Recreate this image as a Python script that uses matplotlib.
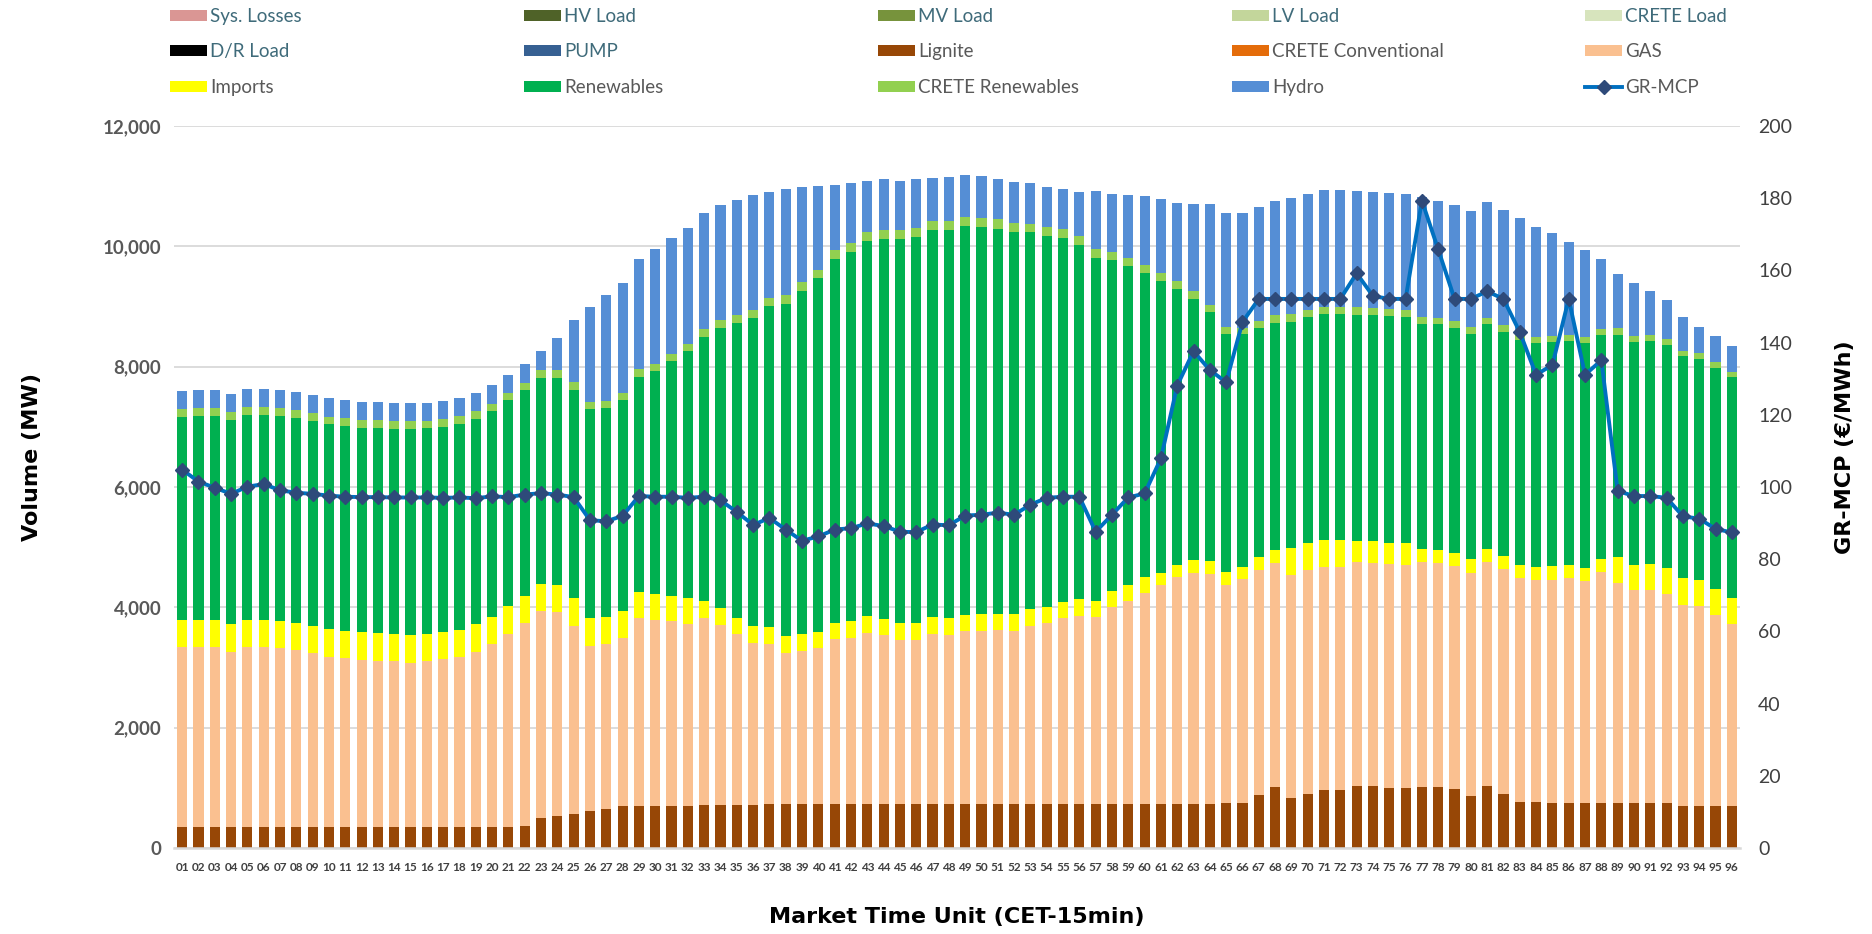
import numpy as np
import matplotlib
matplotlib.use("Agg")
import matplotlib.pyplot as plt
from matplotlib.patches import Patch
from matplotlib.lines import Line2D
from matplotlib.ticker import StrMethodFormatter

plt.rcParams['font.family'] = ['Lato', 'DejaVu Sans']

# market time units 01..96
mtu = [f"{i:02d}" for i in range(1, 97)]

lignite = [345, 345, 345, 345, 345, 345, 345, 345, 345, 345,
           345, 345, 345, 345, 345, 345, 345, 345, 345, 345,
           345, 360, 494, 527, 566, 615, 649, 693, 704, 704,
           704, 704, 715, 715, 715, 715, 737, 737, 737, 737,
           737, 737, 737, 737, 737, 737, 737, 737, 737, 737,
           737, 737, 737, 737, 737, 737, 737, 737, 737, 737,
           737, 737, 737, 737, 749, 749, 887, 1009, 832, 904,
           959, 959, 1026, 1026, 1004, 993, 1009, 1009, 976, 871,
           1026, 898, 760, 760, 749, 749, 749, 749, 749, 749,
           749, 749, 704, 704, 704, 704]
crete_conv = [0] * 96
gas = [2993, 2993, 2993, 2915, 2993, 2993, 2971, 2938, 2893, 2832,
       2805, 2777, 2771, 2760, 2738, 2760, 2788, 2827, 2915, 3038,
       3215, 3372, 3437, 3388, 3127, 2745, 2734, 2795, 3111, 3083,
       3061, 3011, 3106, 2995, 2834, 2690, 2651, 2512, 2535, 2579,
       2729, 2745, 2834, 2795, 2718, 2718, 2812, 2801, 2862, 2867,
       2878, 2867, 2945, 2995, 3078, 3117, 3100, 3261, 3361, 3499,
       3633, 3766, 3832, 3816, 3626, 3720, 3732, 3727, 3704, 3710,
       3710, 3710, 3726, 3710, 3709, 3709, 3738, 3732, 3704, 3704,
       3726, 3738, 3720, 3687, 3709, 3731, 3693, 3831, 3659, 3532,
       3543, 3476, 3338, 3311, 3166, 3011]
imports = [455, 455, 455, 455, 455, 455, 460, 460, 455, 455,
           454, 460, 455, 455, 460, 455, 449, 454, 455, 454,
           455, 460, 450, 455, 455, 455, 454, 455, 433, 427,
           427, 433, 277, 271, 277, 277, 277, 272, 277, 266,
           277, 283, 277, 272, 277, 277, 283, 277, 277, 278,
           278, 278, 283, 272, 277, 283, 272, 266, 277, 272,
           205, 205, 211, 216, 216, 206, 211, 216, 455, 454,
           455, 444, 355, 360, 361, 361, 216, 216, 216, 222,
           222, 210, 222, 222, 222, 217, 216, 217, 427, 427,
           427, 427, 438, 438, 439, 444]
renewables = [3365, 3381, 3387, 3399, 3398, 3398, 3404, 3404, 3404, 3415,
              3410, 3404, 3410, 3410, 3421, 3415, 3421, 3427, 3421, 3426,
              3431, 3420, 3436, 3442, 3470, 3476, 3476, 3508, 3580, 3708,
              3896, 4112, 4401, 4656, 4900, 5127, 5338, 5526, 5709, 5886,
              6046, 6146, 6235, 6323, 6384, 6423, 6439, 6451, 6456, 6434,
              6401, 6356, 6268, 6168, 6041, 5885, 5691, 5503, 5292, 5043,
              4843, 4577, 4345, 4134, 3946, 3862, 3807, 3779, 3757, 3763,
              3746, 3762, 3757, 3757, 3763, 3757, 3741, 3747, 3747, 3752,
              3730, 3730, 3736, 3724, 3724, 3724, 3735, 3729, 3691, 3707,
              3702, 3703, 3692, 3674, 3674, 3664]
crete_ren = [133, 133, 127, 127, 133, 133, 127, 127, 127, 122,
             127, 122, 127, 121, 127, 127, 127, 121, 122, 122,
             122, 122, 122, 127, 122, 116, 122, 117, 128, 117,
             128, 122, 133, 133, 133, 133, 144, 144, 144, 144,
             150, 150, 150, 150, 155, 155, 155, 149, 155, 149,
             155, 155, 144, 155, 149, 150, 150, 144, 145, 144,
             133, 133, 133, 127, 127, 100, 122, 122, 122, 117,
             127, 122, 122, 122, 116, 116, 116, 110, 121, 105,
             99, 111, 110, 106, 106, 100, 100, 100, 117, 100,
             100, 99, 94, 100, 89, 94]
hydro = [305, 300, 311, 299, 299, 305, 305, 305, 305, 305,
         305, 305, 299, 305, 300, 300, 305, 300, 304, 305,
         299, 316, 321, 537, 1030, 1585, 1756, 1828, 1828, 1922,
         1917, 1917, 1916, 1911, 1916, 1917, 1750, 1756, 1578, 1396,
         1086, 997, 847, 836, 820, 803, 715, 737, 704, 709,
         676, 682, 670, 665, 665, 736, 964, 964, 1047, 1147,
         1230, 1297, 1440, 1679, 1895, 1911, 1900, 1906, 1928, 1927,
         1934, 1934, 1934, 1933, 1928, 1928, 2000, 1934, 1928, 1933,
         1939, 1917, 1917, 1817, 1706, 1545, 1446, 1163, 892, 875,
         731, 654, 554, 427, 432, 426]
gr_mcp = [104.8, 101.5, 99.8, 98.1, 100.1, 100.8, 99.1, 98.4, 98.1, 97.6,
          97.3, 97.2, 97.2, 97.1, 97.1, 97.1, 97.0, 97.1, 96.9, 97.4,
          97.2, 97.9, 98.3, 97.9, 97.2, 90.8, 90.5, 92.0, 97.5, 97.3,
          97.3, 97.0, 97.3, 96.3, 93.1, 89.5, 91.4, 88.2, 85.1, 86.3,
          88.2, 88.6, 89.9, 89.2, 87.6, 87.5, 89.6, 89.4, 92.1, 92.3,
          92.9, 92.3, 95.1, 97.0, 97.3, 97.3, 87.6, 92.3, 97.1, 98.2,
          107.9, 128.1, 137.6, 132.4, 129.0, 145.7, 152.1, 152.1, 152.1, 152.1,
          152.1, 152.1, 159.2, 152.9, 152.1, 152.1, 179.3, 165.8, 152.1, 152.1,
          154.2, 152.1, 142.9, 131.1, 133.8, 152.1, 131.1, 135.1, 98.9, 97.5,
          97.5, 97.0, 91.9, 91.2, 88.4, 87.4]

stack = [('Lignite', lignite, '#974706'),
         ('CRETE Conventional', crete_conv, '#E46C0A'),
         ('GAS', gas, '#FAC090'),
         ('Imports', imports, '#FFFF00'),
         ('Renewables', renewables, '#00B050'),
         ('CRETE Renewables', crete_ren, '#92D050'),
         ('Hydro', hydro, '#558ED5')]

W, H = 1872, 934
fig = plt.figure(figsize=(W / 100, H / 100), dpi=100)
ax = fig.add_axes([174 / W, 86 / H, 1566 / W, 722 / H])

x = np.arange(len(mtu))
bottom = np.zeros(len(mtu))
for name, vals, col in stack:
    ax.bar(x, vals, width=0.62, bottom=bottom, color=col, linewidth=0, zorder=2)
    bottom += np.array(vals)

ax.set_xlim(-0.5, 95.5)
ax.set_ylim(0, 12000)
ax.set_yticks(range(0, 12001, 2000))
ax.yaxis.set_major_formatter(StrMethodFormatter('{x:,.0f}'))
ax.set_xticks(x)
ax.set_xticklabels(mtu, fontsize=8.5, fontweight='bold', color='#404040')
ax.tick_params(axis='x', length=0, pad=10)
ax.tick_params(axis='y', length=0, pad=9, labelsize=13.5, labelcolor='#595959')
for lab in ax.get_yticklabels():
    lab.set_fontweight('bold')
ax.grid(axis='y', color='#D9D9D9', linewidth=1.3, zorder=0)
ax.set_axisbelow(True)
for s in ['top', 'right', 'left']:
    ax.spines[s].set_visible(False)
ax.spines['bottom'].set_color('#D9D9D9')
ax.spines['bottom'].set_linewidth(1.8)

ax2 = ax.twinx()
ax2.plot(x, gr_mcp, color='#0070C0', linewidth=2.8, marker='D', markersize=7,
         markerfacecolor='#2E4A7A', markeredgecolor='#2E4A7A', zorder=5)
ax2.set_ylim(0, 200)
ax2.set_yticks(range(0, 201, 20))
ax2.tick_params(axis='y', length=0, pad=13, labelsize=14, labelcolor='#404040')
for s in ax2.spines.values():
    s.set_visible(False)

title_font = dict(fontsize=16, fontweight='bold', color='black', family='DejaVu Sans')
fig.text(32 / W, 1 - 457 / H, 'Volume (MW)', rotation=90, ha='center', va='center', **title_font)
fig.text(1845 / W, 1 - 447 / H, 'GR-MCP (€/MWh)', rotation=90, ha='center', va='center', **title_font)
fig.text(957 / W, 1 - 917 / H, 'Market Time Unit (CET-15min)', ha='center', va='center', **title_font)

# legend: 5 columns x 3 rows, laid out like the Excel legend
load_col = '#3F6B7A'
gen_col = '#595959'
entries = [
    ('Sys. Losses', '#DA9694', load_col), ('HV Load', '#4F6228', load_col),
    ('MV Load', '#77933C', load_col), ('LV Load', '#C3D69B', load_col),
    ('CRETE Load', '#D7E4BD', load_col),
    ('D/R Load', '#000000', load_col), ('PUMP', '#366092', load_col),
    ('Lignite', '#974706', gen_col), ('CRETE Conventional', '#E46C0A', gen_col),
    ('GAS', '#FAC090', gen_col),
    ('Imports', '#FFFF00', gen_col), ('Renewables', '#00B050', gen_col),
    ('CRETE Renewables', '#92D050', gen_col), ('Hydro', '#558ED5', gen_col),
    ('GR-MCP', None, gen_col),
]
col_x = [170, 524, 878, 1232, 1585]
row_y = [16.5, 51.5, 87.5]
fs = 13.5
px = fs * 100 / 72
for i, (lab, col, tcol) in enumerate(entries):
    r, c = divmod(i, 5)
    if col is None:
        h = Line2D([], [], color='#0070C0', linewidth=2.8, marker='D', markersize=7,
                   markerfacecolor='#2E4A7A', markeredgecolor='#2E4A7A')
    else:
        h = Patch(facecolor=col, edgecolor='none')
    fig.legend(handles=[h], labels=[lab], loc='center left',
               bbox_to_anchor=(col_x[c] / W, 1 - row_y[r] / H),
               frameon=False, fontsize=fs, labelcolor=tcol,
               handlelength=37 / px, handleheight=11 / px, handletextpad=3 / px,
               borderpad=0, borderaxespad=0)

fig.savefig('out.png', dpi=100)
